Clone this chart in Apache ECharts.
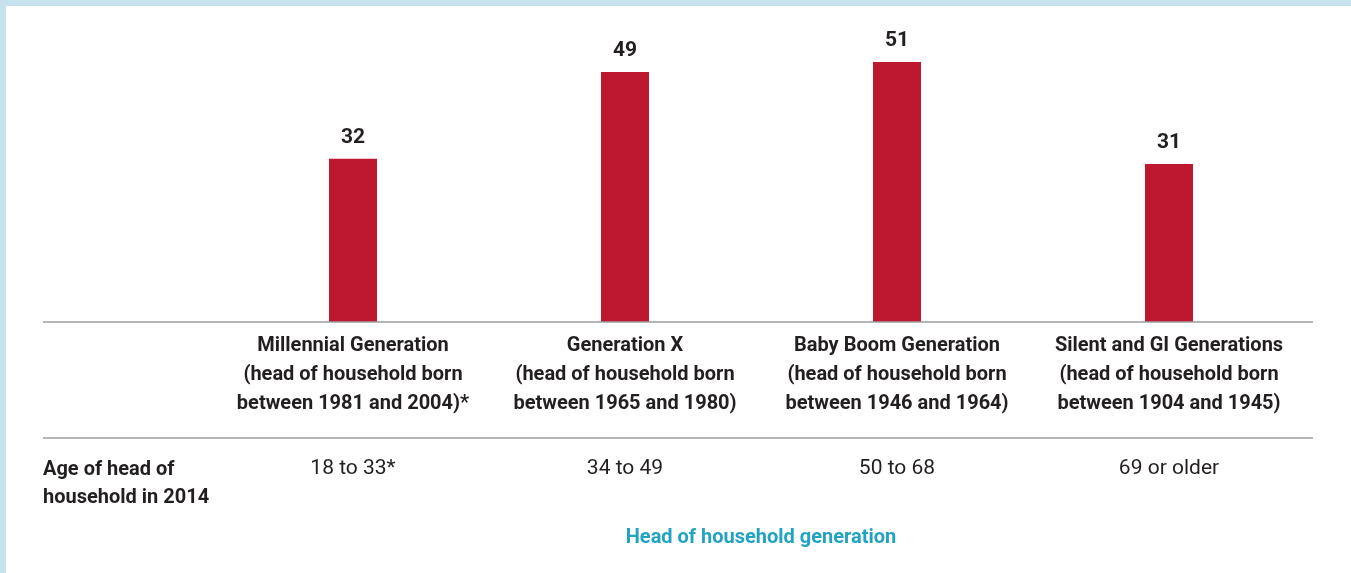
<!DOCTYPE html>
<html>
<head>
<meta charset="utf-8">
<script src="https://cdn.jsdelivr.net/npm/echarts@6/dist/echarts.min.js"></script>
<style>
  html, body { margin: 0; padding: 0; background: #fff; }
  #chart { width: 1351px; height: 573px; }
</style>
</head>
<body>
<div id="chart"></div>
<script>
// generations (category axis)
const generations = [
  'Millennial Generation\n(head of household born\nbetween 1981 and 2004)*',
  'Generation X\n(head of household born\nbetween 1965 and 1980)',
  'Baby Boom Generation\n(head of household born\nbetween 1946 and 1964)',
  'Silent and GI Generations\n(head of household born\nbetween 1904 and 1945)'
];
const ageRanges = ['18 to 33*', '34 to 49', '50 to 68', '69 or older'];
const values = [32, 49, 51, 31];

const textColor = '#231F20';
const ruleColor = '#9D9D9D';
const fontFamily = 'Roboto, sans-serif';

const chart = echarts.init(document.getElementById('chart'));

const option = {
  backgroundColor: '#fff',
  animation: false,
  textStyle: { fontFamily: fontFamily },
  title: {
    text: 'Age of head of\nhousehold in 2014',
    left: 38,
    top: 451,
    textStyle: {
      fontFamily: fontFamily,
      fontSize: 20,
      fontWeight: 'bold',
      lineHeight: 28,
      color: textColor
    }
  },
  grid: {
    left: 217,
    right: 46,
    top: 16,
    bottom: 251
  },
  xAxis: [
    {
      type: 'category',
      data: generations,
      axisLine: { show: false },
      axisTick: { show: false },
      axisLabel: {
        interval: 0,
        margin: 9,
        fontFamily: fontFamily,
        fontSize: 20,
        fontWeight: 'bold',
        lineHeight: 29,
        color: textColor
      }
    },
    {
      type: 'category',
      data: ageRanges,
      position: 'bottom',
      offset: 124,
      axisLine: { show: false },
      axisTick: { show: false },
      axisLabel: {
        interval: 0,
        margin: 8,
        fontFamily: fontFamily,
        fontSize: 21,
        lineHeight: 29,
        color: textColor
      },
      name: 'Head of household generation',
      nameLocation: 'middle',
      nameGap: 82,
      nameTextStyle: {
        fontFamily: fontFamily,
        fontSize: 20,
        fontWeight: 'bold',
        color: '#22A3C1'
      }
    }
  ],
  yAxis: {
    type: 'value',
    min: 0,
    max: 60,
    show: false
  },
  series: [
    {
      type: 'bar',
      data: values,
      barWidth: 48,
      itemStyle: { color: '#BE1830' },
      label: {
        show: true,
        position: 'top',
        distance: 11,
        fontFamily: fontFamily,
        fontSize: 21,
        fontWeight: 'bold',
        color: textColor
      }
    }
  ],
  graphic: [
    // light blue frame along top and left edges
    { type: 'rect', left: 0, top: 0, shape: { width: 1351, height: 6 }, style: { fill: '#C6E2EF' }, z: 10 },
    { type: 'rect', left: 0, top: 0, shape: { width: 6, height: 573 }, style: { fill: '#C6E2EF' }, z: 10 },
    // table rules
    { type: 'line', shape: { x1: 43, y1: 322, x2: 1313, y2: 322 }, style: { stroke: ruleColor, lineWidth: 1.5 }, z: 10 },
    { type: 'line', shape: { x1: 43, y1: 438, x2: 1313, y2: 438 }, style: { stroke: ruleColor, lineWidth: 1.5 }, z: 10 }
  ]
};

chart.setOption(option);
</script>
</body>
</html>
